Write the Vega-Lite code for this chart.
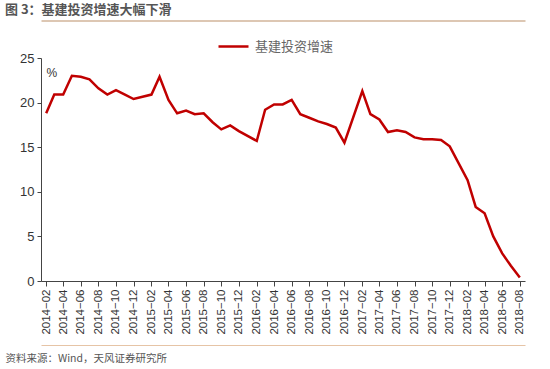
{
  "$schema": "https://vega.github.io/schema/vega-lite/v6.json",
  "width": 484,
  "height": 223,
  "autosize": "none",
  "padding": {"left": 41, "top": 58, "right": 25, "bottom": 88},
  "background": "white",
  "title": {
    "text": "图 3：基建投资增速大幅下滑",
    "anchor": "start",
    "frame": "group",
    "dx": -36,
    "dy": 13,
    "fontSize": 13,
    "fontWeight": "bold",
    "color": "#555555",
    "font": "Noto Sans CJK SC",
    "baseline": "bottom",
    "offset": 4
  },
  "data": {
    "values": [
      {"date": "2014-02-01", "value": 18.8},
      {"date": "2014-03-01", "value": 20.9},
      {"date": "2014-04-01", "value": 20.9},
      {"date": "2014-05-01", "value": 23.0},
      {"date": "2014-06-01", "value": 22.9},
      {"date": "2014-07-01", "value": 22.6},
      {"date": "2014-08-01", "value": 21.6},
      {"date": "2014-09-01", "value": 20.9},
      {"date": "2014-10-01", "value": 21.4},
      {"date": "2014-11-01", "value": 20.9},
      {"date": "2014-12-01", "value": 20.4},
      {"date": "2015-02-01", "value": 20.9},
      {"date": "2015-03-01", "value": 22.9},
      {"date": "2015-04-01", "value": 20.3},
      {"date": "2015-05-01", "value": 18.8},
      {"date": "2015-06-01", "value": 19.1},
      {"date": "2015-07-01", "value": 18.7},
      {"date": "2015-08-01", "value": 18.8},
      {"date": "2015-09-01", "value": 17.8},
      {"date": "2015-10-01", "value": 17.0},
      {"date": "2015-11-01", "value": 17.45},
      {"date": "2015-12-01", "value": 16.8},
      {"date": "2016-02-01", "value": 15.7},
      {"date": "2016-03-01", "value": 19.2},
      {"date": "2016-04-01", "value": 19.8},
      {"date": "2016-05-01", "value": 19.8},
      {"date": "2016-06-01", "value": 20.3},
      {"date": "2016-07-01", "value": 18.7},
      {"date": "2016-08-01", "value": 18.3},
      {"date": "2016-09-01", "value": 17.9},
      {"date": "2016-10-01", "value": 17.6},
      {"date": "2016-11-01", "value": 17.2},
      {"date": "2016-12-01", "value": 15.5},
      {"date": "2017-02-01", "value": 21.3},
      {"date": "2017-03-01", "value": 18.7},
      {"date": "2017-04-01", "value": 18.1},
      {"date": "2017-05-01", "value": 16.7},
      {"date": "2017-06-01", "value": 16.9},
      {"date": "2017-07-01", "value": 16.7},
      {"date": "2017-08-01", "value": 16.1},
      {"date": "2017-09-01", "value": 15.9},
      {"date": "2017-10-01", "value": 15.9},
      {"date": "2017-11-01", "value": 15.8},
      {"date": "2017-12-01", "value": 15.1},
      {"date": "2018-02-01", "value": 11.3},
      {"date": "2018-03-01", "value": 8.3},
      {"date": "2018-04-01", "value": 7.6},
      {"date": "2018-05-01", "value": 5.0},
      {"date": "2018-06-01", "value": 3.1},
      {"date": "2018-07-01", "value": 1.7},
      {"date": "2018-08-01", "value": 0.4}
    ]
  },
  "layer": [
    {
      "mark": {"type": "line", "strokeWidth": 2.5},
      "encoding": {
        "x": {
          "field": "date",
          "type": "temporal",
          "scale": {"type": "utc", "domain": [
            {"year": 2014, "month": 1, "date": 14, "utc": true},
            {"year": 2018, "month": 8, "date": 19, "utc": true}
          ]},
          "axis": {
            "values": [
              {"year": 2014, "month": 2, "date": 1, "utc": true},
              {"year": 2014, "month": 4, "date": 1, "utc": true},
              {"year": 2014, "month": 6, "date": 1, "utc": true},
              {"year": 2014, "month": 8, "date": 1, "utc": true},
              {"year": 2014, "month": 10, "date": 1, "utc": true},
              {"year": 2014, "month": 12, "date": 1, "utc": true},
              {"year": 2015, "month": 2, "date": 1, "utc": true},
              {"year": 2015, "month": 4, "date": 1, "utc": true},
              {"year": 2015, "month": 6, "date": 1, "utc": true},
              {"year": 2015, "month": 8, "date": 1, "utc": true},
              {"year": 2015, "month": 10, "date": 1, "utc": true},
              {"year": 2015, "month": 12, "date": 1, "utc": true},
              {"year": 2016, "month": 2, "date": 1, "utc": true},
              {"year": 2016, "month": 4, "date": 1, "utc": true},
              {"year": 2016, "month": 6, "date": 1, "utc": true},
              {"year": 2016, "month": 8, "date": 1, "utc": true},
              {"year": 2016, "month": 10, "date": 1, "utc": true},
              {"year": 2016, "month": 12, "date": 1, "utc": true},
              {"year": 2017, "month": 2, "date": 1, "utc": true},
              {"year": 2017, "month": 4, "date": 1, "utc": true},
              {"year": 2017, "month": 6, "date": 1, "utc": true},
              {"year": 2017, "month": 8, "date": 1, "utc": true},
              {"year": 2017, "month": 10, "date": 1, "utc": true},
              {"year": 2017, "month": 12, "date": 1, "utc": true},
              {"year": 2018, "month": 2, "date": 1, "utc": true},
              {"year": 2018, "month": 4, "date": 1, "utc": true},
              {"year": 2018, "month": 6, "date": 1, "utc": true},
              {"year": 2018, "month": 8, "date": 1, "utc": true}
            ],
            "labelExpr": "utcFormat(datum.value, '%Y−%m')",
            "labelAngle": -90,
            "labelAlign": "right",
            "labelBaseline": "middle",
            "labelFont": "Liberation Sans",
            "labelFontSize": 11.5,
            "labelColor": "#333333",
            "labelPadding": 3,
            "labelOverlap": false,
            "labelFlush": false,
            "tickSize": 5,
            "tickColor": "#444444",
            "domainColor": "#444444",
            "grid": false,
            "title": "资料来源：Wind，天风证券研究所",
            "titleFont": "Noto Sans CJK SC",
            "titleFontSize": 10.5,
            "titleFontWeight": "normal",
            "titleColor": "#555555",
            "titleAlign": "left",
            "titleBaseline": "middle",
            "titleX": -36,
            "titleY": 77
          }
        },
        "y": {
          "field": "value",
          "type": "quantitative",
          "scale": {"domain": [0, 25]},
          "axis": {
            "values": [0, 5, 10, 15, 20, 25],
            "grid": false,
            "tickSize": 4,
            "tickColor": "#444444",
            "domainColor": "#444444",
            "labelFont": "Liberation Sans",
            "labelFontSize": 13,
            "labelColor": "#333333",
            "labelPadding": 3,
            "title": "%",
            "titleAngle": 0,
            "titleX": 5,
            "titleY": 14,
            "titleAlign": "left",
            "titleBaseline": "middle",
            "titleFont": "Liberation Sans",
            "titleFontSize": 12,
            "titleFontWeight": "normal",
            "titleColor": "#333333"
          }
        },
        "color": {
          "datum": "基建投资增速",
          "type": "nominal",
          "scale": {"range": ["#c00000"]},
          "legend": {
            "orient": "none",
            "legendX": 176,
            "legendY": -28,
            "title": null,
            "symbolType": "stroke",
            "symbolSize": 900,
            "symbolStrokeWidth": 2.5,
            "labelFont": "Noto Sans CJK SC",
            "labelFontSize": 13,
            "labelColor": "#666666",
            "labelOffset": 5
          }
        }
      }
    },
    {
      "mark": {"type": "point", "opacity": 0},
      "encoding": {
        "x": {
          "field": "date",
          "type": "temporal",
          "axis": {"orient": "top", "offset": 37.5, "labels": false, "ticks": false, "grid": false, "title": null, "domainColor": "#d2b49a", "domainWidth": 1.5}
        }
      }
    },
    {
      "mark": {"type": "point", "opacity": 0},
      "encoding": {
        "x": {
          "field": "date",
          "type": "temporal",
          "axis": {"orient": "bottom", "offset": 64, "labels": false, "ticks": false, "grid": false, "title": null, "domainColor": "#e6c4a6", "domainWidth": 1.2}
        }
      }
    }
  ],
  "resolve": {"axis": {"x": "independent"}},
  "config": {"view": {"stroke": null}}
}
